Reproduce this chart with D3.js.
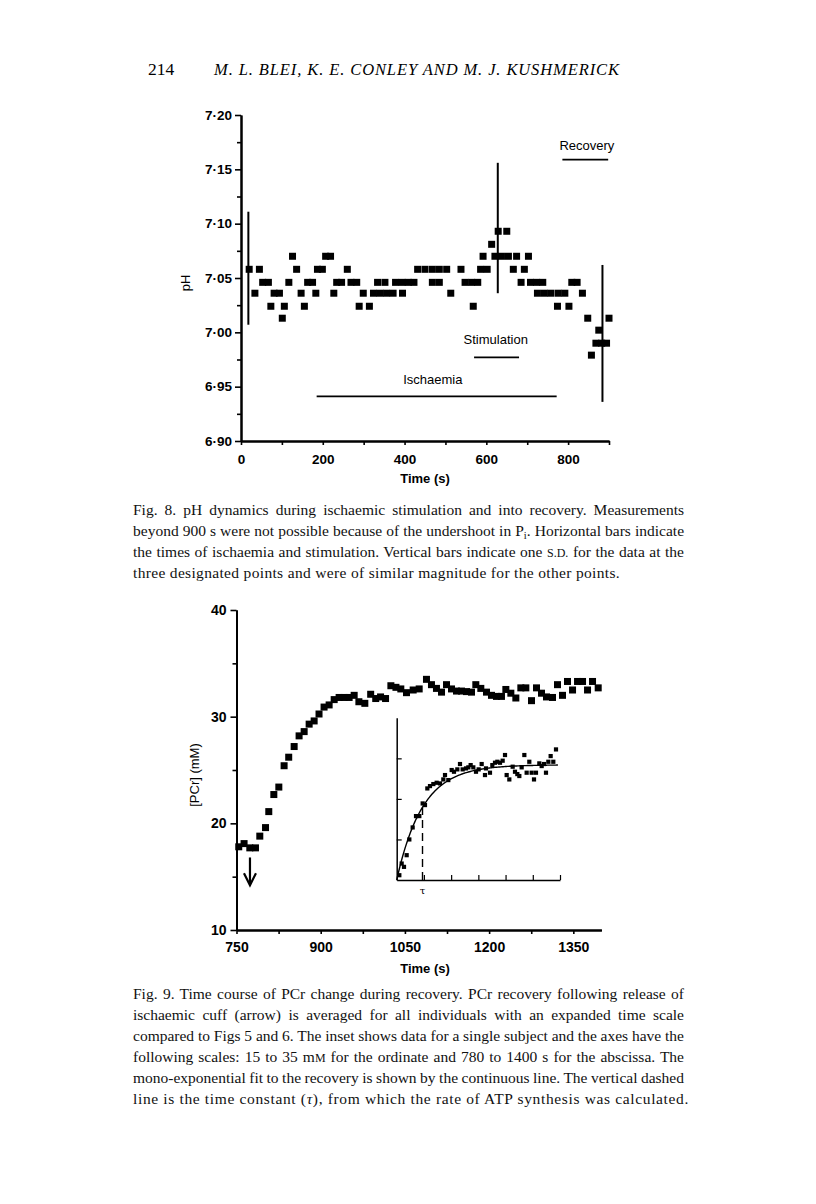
<!DOCTYPE html>
<html><head><meta charset="utf-8">
<script src="https://cdn.jsdelivr.net/npm/d3@7"></script>
<style>body{margin:0;background:#fff}</style>
</head><body>
<svg id="c" width="816" height="1204" xmlns="http://www.w3.org/2000/svg"></svg>
<script>
// ---------- Fig. 8 data ----------
const phTimes = [20,34,45,53,67,73,81,94,101,106,117,126,136,147,155,163,175,183,187,199,207,219,227,234,246,260,269,283,289,299,314,324,334,340,352,356,372,378,394,395,409,423,432,450,468,468,485,485,503,513,538,548,564,568,579,586,592,602,613,621,629,637,650,654,666,674,685,693,703,708,723,725,738,742,758,774,776,792,802,809,822,835,848,857,868,875,882,894,900];
const phValues = [7.058,7.036,7.058,7.046,7.046,7.024,7.036,7.036,7.013,7.024,7.046,7.070,7.058,7.036,7.024,7.046,7.046,7.036,7.058,7.058,7.070,7.070,7.036,7.046,7.046,7.058,7.046,7.046,7.024,7.036,7.024,7.036,7.046,7.036,7.046,7.036,7.036,7.046,7.046,7.036,7.046,7.046,7.058,7.058,7.058,7.046,7.058,7.046,7.058,7.036,7.058,7.046,7.046,7.024,7.046,7.058,7.070,7.058,7.081,7.070,7.093,7.070,7.093,7.070,7.058,7.070,7.046,7.058,7.070,7.046,7.046,7.036,7.046,7.036,7.036,7.024,7.036,7.036,7.024,7.046,7.046,7.036,7.013,6.979,6.990,7.002,6.990,6.990,7.013];
const phErrTimes = [18, 628, 884];
const phErrLow = [7.007, 7.036, 6.936];
const phErrHigh = [7.111, 7.156, 7.062];
const phBarNames = ["Ischaemia", "Stimulation", "Recovery"];
const phBarStart = [185, 570, 786];
const phBarEnd = [772, 680, 898];
const phBarLevel = [6.941, 6.977, 7.159];
const phYTicks = [6.90, 6.95, 7.00, 7.05, 7.10, 7.15, 7.20];
const phYMinor = [6.925, 6.975, 7.025, 7.075, 7.125, 7.175];
const phXTicks = [0, 200, 400, 600, 800];
const phXMinor = [100, 300, 500, 700, 900];

// ---------- Fig. 9 data ----------
const pcrTimes = [754,763.5,773.7,783.8,791.5,801.7,807.5,816.5,825.4,834.8,843,852.7,861.5,870.5,879.4,888.3,897,906,915,924,932.8,941.7,950.6,959.6,968,978.6,989,998,1006.6,1015.5,1025,1034,1042.7,1052.8,1064.7,1075.4,1088.4,1097.3,1106.2,1115.2,1124.1,1133,1141.9,1150.8,1159.7,1168.6,1176.3,1185.2,1195.3,1204.2,1213.1,1222,1229.8,1238.7,1247.6,1256.5,1265.4,1275.5,1284.4,1293.3,1302.2,1312.9,1321.8,1330.7,1339.6,1348.6,1357.5,1366.4,1375.3,1384.2,1394.3];
const pcrValues = [17.8,18.1,17.7,17.7,18.8,19.6,21.1,22.7,23.4,25.4,26.2,27.2,28.2,28.6,29.3,29.6,30.25,30.9,31.1,31.6,31.8,31.8,31.8,32.0,31.4,31.25,32.1,31.7,31.85,31.7,32.9,32.75,32.6,32.25,32.5,32.6,33.5,33.0,32.65,32.3,33.0,32.6,32.4,32.4,32.35,32.3,33.0,32.65,32.3,32.0,31.9,31.9,32.55,32.2,31.75,32.7,32.7,31.5,32.7,32.2,31.85,31.8,33.0,32.0,33.3,32.5,33.3,33.3,32.5,33.3,32.7];
const pcrYTicks = [10, 20, 30, 40];
const pcrYMinor = [15, 25, 35];
const pcrXTicks = [750, 900, 1050, 1200, 1350];
const pcrXMinor = [825, 975, 1125, 1275];
const cuffRelease = [774, 16.8, 14.2]; // time, arrow start, arrow tip (mM)

// ---------- Inset (single subject) ----------
const insetTimes = [790,798.9,807.7,817.8,828,840.6,853.3,865.9,878.6,887.4,896.3,906.4,919.1,931.7,944.4,957,963.4,976,988.7,997.5,1010.2,1020.3,1030.4,1043.1,1052,1060.8,1070.9,1081.1,1091.2,1102.6,1115.2,1119,1134.2,1143.1,1153.2,1162.1,1172.2,1182.3,1191.2,1197.5,1207.6,1220.3,1229.1,1238,1245.6,1254.4,1264.6,1273.4,1283.5,1292.4,1301.3,1308.8,1321.5,1330.4,1339.2,1346.8,1355.7,1364.5,1374.6,1384.8];
const insetValues = [15.59,17.03,16.62,18.06,20.0,21.48,22.88,22.88,24.44,24.24,26.29,26.58,26.83,26.99,26.91,27.4,27.94,27.32,28.56,28.35,28.64,29.3,28.64,28.76,28.89,29.17,28.89,28.35,28.64,29.3,27.94,28.76,28.23,29.17,29.46,29.58,29.46,29.71,30.41,27.94,27.4,28.97,28.35,28.06,27.82,28.89,30.41,28.23,29.58,28.23,27.4,28.23,29.38,29.05,29.3,28.23,29.58,30.28,29.58,31.1];
const insetFitStart = 15.0, insetFitPlateau = 29.2, insetTau = 98; // mono-exponential fit parameters
const insetYTicks = [20, 25, 30];
const insetXTicks = [883.3, 986.7, 1090, 1193.3, 1296.7, 1400];

const svg = d3.select("#c");
svg.append("rect").attr("width", 816).attr("height", 1204).attr("fill", "#fff");
const SANS = "'Liberation Sans', Arial, sans-serif";
const SERIF = "'Liberation Serif', 'Times New Roman', serif";

// ---------- Header ----------
svg.append("text").attr("x", 148).attr("y", 75).attr("font-family", SERIF).attr("font-size", 17.5).text("214");
svg.append("text").attr("x", 214).attr("y", 75).attr("font-family", SERIF).attr("font-size", 16.5)
  .attr("font-style", "italic").attr("textLength", 405).attr("lengthAdjust", "spacing")
  .text("M. L. BLEI, K. E. CONLEY AND M. J. KUSHMERICK");

function styleAxis(g, size) {
  g.select(".domain").attr("stroke-width", 2).attr("stroke", "#000");
  g.selectAll(".tick line").attr("stroke-width", 1.6).attr("stroke", "#000");
  g.selectAll(".tick text").attr("font-family", SANS).attr("font-weight", "bold").attr("font-size", size).attr("fill", "#000");
}

// ---------- Fig. 8 ----------
const x8 = d3.scaleLinear().domain([0, 900]).range([241, 609]);
const y8 = d3.scaleLinear().domain([6.90, 7.20]).range([441, 115]);
const fmtPH = d => d.toFixed(2).replace(".", "\u00B7");

svg.append("g").attr("transform", "translate(241,0)")
  .call(d3.axisLeft(y8).tickValues(phYMinor).tickSize(4).tickFormat("").tickSizeOuter(0))
  .call(g => styleAxis(g, 13.5));
svg.append("g").attr("transform", "translate(241,0)")
  .call(d3.axisLeft(y8).tickValues(phYTicks).tickSize(6).tickPadding(3).tickFormat(fmtPH).tickSizeOuter(0))
  .call(g => styleAxis(g, 13.5));
svg.append("g").attr("transform", "translate(0,441)")
  .call(d3.axisBottom(x8).tickValues(phXMinor).tickSize(4).tickFormat("").tickSizeOuter(0))
  .call(g => styleAxis(g, 13.5));
svg.append("g").attr("transform", "translate(0,441)")
  .call(d3.axisBottom(x8).tickValues(phXTicks).tickSize(4).tickPadding(9).tickFormat(d3.format("d")).tickSizeOuter(0))
  .call(g => styleAxis(g, 13.5));

svg.append("text").attr("transform", "translate(190,283) rotate(-90)").attr("text-anchor", "middle")
  .attr("font-family", SANS).attr("font-size", 13).text("pH");
svg.append("text").attr("x", 425).attr("y", 483).attr("text-anchor", "middle")
  .attr("font-family", SANS).attr("font-weight", "bold").attr("font-size", 13).text("Time (s)");

// error bars
svg.append("g").selectAll("line").data(phErrTimes).join("line")
  .attr("x1", d => x8(d)).attr("x2", d => x8(d))
  .attr("y1", (d, i) => y8(phErrLow[i])).attr("y2", (d, i) => y8(phErrHigh[i]))
  .attr("stroke", "#000").attr("stroke-width", 2);
// squares
const s8 = 7;
svg.append("g").selectAll("rect").data(phTimes).join("rect")
  .attr("x", d => x8(d) - s8 / 2).attr("y", (d, i) => y8(phValues[i]) - s8 / 2)
  .attr("width", s8).attr("height", s8).attr("fill", "#000");
// horizontal bars + labels
phBarNames.forEach((n, i) => {
  svg.append("line").attr("x1", x8(phBarStart[i])).attr("x2", x8(phBarEnd[i]))
    .attr("y1", y8(phBarLevel[i])).attr("y2", y8(phBarLevel[i]))
    .attr("stroke", "#000").attr("stroke-width", 1.8);
});
const labelCenters = [469, 623, 846];
const labelY = [6.952, 6.989, 7.168];
phBarNames.forEach((n, i) => {
  svg.append("text").attr("x", x8(labelCenters[i])).attr("y", y8(labelY[i])).attr("text-anchor", "middle")
    .attr("font-family", SANS).attr("font-size", 13).attr("fill", "#000").text(n);
});

// ---------- Captions ----------
// each line: array of parts; a part is a string or {sub}, {sc}, {it}; lastWidth = width of final (ragged) line
function caption(lines, x0, y0, width, lh, lastWidth) {
  lines.forEach((parts, i) => {
    const t = svg.append("text").attr("x", x0).attr("y", y0 + i * lh)
      .attr("font-family", SERIF).attr("font-size", 15.5).attr("fill", "#111");
    let afterSub = false;
    parts.forEach(p => {
      let ts;
      if (typeof p === "string") { ts = t.append("tspan").text(p); if (afterSub) { ts.attr("dy", -3); afterSub = false; } }
      else if (p.sub) { ts = t.append("tspan").attr("font-size", 10.5).attr("dy", 3).text(p.sub); afterSub = true; }
      else if (p.sc) { ts = t.append("tspan").attr("font-size", 12).text(p.sc); }
      else if (p.it) { ts = t.append("tspan").attr("font-style", "italic").text(p.it); }
    });
    const len = t.node().getComputedTextLength();
    const str = t.text();
    if (i < lines.length - 1) {
      const spaces = (str.match(/ /g) || []).length;
      if (spaces > 0) t.attr("word-spacing", (width - len) / spaces);
    } else {
      t.attr("letter-spacing", (lastWidth - len) / str.length);
    }
  });
}
caption([
  ["Fig. 8. pH dynamics during ischaemic stimulation and into recovery. Measurements"],
  ["beyond 900 s were not possible because of the undershoot in P", {sub: "i"}, ". Horizontal bars indicate"],
  ["the times of ischaemia and stimulation. Vertical bars indicate one ", {sc: "S.D."}, " for the data at the"],
  ["three designated points and were of similar magnitude for the other points."]
], 133, 515, 551, 21, 487);

// ---------- Fig. 9 ----------
const x9 = d3.scaleLinear().domain([750, 1400]).range([236.5, 601.4]);
const y9 = d3.scaleLinear().domain([10, 40]).range([930, 610]);

svg.append("g").attr("transform", "translate(236.5,0)")
  .call(d3.axisLeft(y9).tickValues(pcrYMinor).tickSize(4).tickFormat("").tickSizeOuter(0))
  .call(g => styleAxis(g, 14));
svg.append("g").attr("transform", "translate(236.5,0)")
  .call(d3.axisLeft(y9).tickValues(pcrYTicks).tickSize(6).tickPadding(4).tickFormat(d3.format("d")).tickSizeOuter(0))
  .call(g => styleAxis(g, 14));
svg.append("g").attr("transform", "translate(0,930)")
  .call(d3.axisBottom(x9).tickValues(pcrXMinor).tickSize(4).tickFormat("").tickSizeOuter(0))
  .call(g => styleAxis(g, 14));
svg.append("g").attr("transform", "translate(0,930)")
  .call(d3.axisBottom(x9).tickValues(pcrXTicks).tickSize(4).tickPadding(8).tickFormat(d3.format("d")).tickSizeOuter(0))
  .call(g => styleAxis(g, 14));

svg.append("text").attr("transform", "translate(199,775) rotate(-90)").attr("text-anchor", "middle")
  .attr("font-family", SANS).attr("font-size", 13).text("[PCr] (mM)");
svg.append("text").attr("x", 425).attr("y", 973).attr("text-anchor", "middle")
  .attr("font-family", SANS).attr("font-weight", "bold").attr("font-size", 13).text("Time (s)");

const s9 = 7;
svg.append("g").selectAll("rect").data(pcrTimes).join("rect")
  .attr("x", d => x9(d) - s9 / 2).attr("y", (d, i) => y9(pcrValues[i]) - s9 / 2)
  .attr("width", s9).attr("height", s9).attr("fill", "#000");

// arrow (cuff release)
{
  const ax = x9(cuffRelease[0]), ay0 = y9(cuffRelease[1]), ay1 = y9(cuffRelease[2]);
  svg.append("line").attr("x1", ax).attr("x2", ax).attr("y1", ay0).attr("y2", ay1 - 1)
    .attr("stroke", "#000").attr("stroke-width", 2.2);
  svg.append("path").attr("d", `M${ax - 6},${ay1 - 12} L${ax},${ay1} L${ax + 6},${ay1 - 12}`)
    .attr("fill", "none").attr("stroke", "#000").attr("stroke-width", 2.2);
}

// ---------- Inset ----------
const xi = d3.scaleLinear().domain([780, 1400]).range([396.7, 560]);
const yi = d3.scaleLinear().domain([15, 35]).range([880, 717.8]);
svg.append("g").attr("transform", "translate(396.7,0)")
  .call(d3.axisRight(yi).tickValues(insetYTicks).tickSize(5).tickFormat("").tickSizeOuter(0))
  .call(g => { g.select(".domain").attr("stroke-width", 1.5); g.selectAll(".tick line").attr("stroke-width", 1.2); });
svg.append("g").attr("transform", "translate(0,880)")
  .call(d3.axisTop(xi).tickValues(insetXTicks).tickSize(5).tickFormat("").tickSizeOuter(0))
  .call(g => { g.select(".domain").attr("stroke-width", 1.5); g.selectAll(".tick line").attr("stroke-width", 1.2); });

const fitT = d3.range(780, 1394, 4);
const fit = d3.line().x(d => xi(d)).y(d => yi(insetFitPlateau - (insetFitPlateau - insetFitStart) * Math.exp(-(d - 780) / insetTau)));
svg.append("path").datum(fitT).attr("d", fit).attr("fill", "none").attr("stroke", "#000").attr("stroke-width", 1.4);

const tauT = 780 + insetTau;
svg.append("line").attr("x1", xi(tauT)).attr("x2", xi(tauT))
  .attr("y1", yi(15)).attr("y2", yi(insetFitPlateau - (insetFitPlateau - insetFitStart) * Math.exp(-1)))
  .attr("stroke", "#000").attr("stroke-width", 1.4).attr("stroke-dasharray", "8,5");
svg.append("text").attr("x", xi(tauT)).attr("y", 894).attr("text-anchor", "middle")
  .attr("font-family", "'DejaVu Serif', serif").attr("font-size", 10).text("\u03C4");

const si = 4.2;
svg.append("g").selectAll("rect").data(insetTimes).join("rect")
  .attr("x", d => xi(d) - si / 2).attr("y", (d, i) => yi(insetValues[i]) - si / 2)
  .attr("width", si).attr("height", si).attr("fill", "#000");

caption([
  ["Fig. 9. Time course of PCr change during recovery. PCr recovery following release of"],
  ["ischaemic cuff (arrow) is averaged for all individuals with an expanded time scale"],
  ["compared to Figs 5 and 6. The inset shows data for a single subject and the axes have the"],
  ["following scales: 15 to 35 m", {sc: "M"}, " for the ordinate and 780 to 1400 s for the abscissa. The"],
  ["mono-exponential fit to the recovery is shown by the continuous line. The vertical dashed"],
  ["line is the time constant (", {it: "\u03C4"}, "), from which the rate of ATP synthesis was calculated."]
], 133, 999, 551, 21, 556);
</script>
</body></html>
